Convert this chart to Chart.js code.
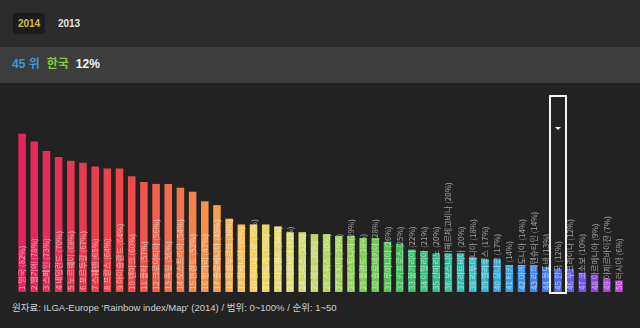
<!DOCTYPE html>
<html>
<head>
<meta charset="utf-8">
<script src="https://cdn.jsdelivr.net/npm/chart.js@4/dist/chart.umd.min.js"></script>
<style>
  html, body { margin: 0; padding: 0; background: #222; }
  body { width: 640px; height: 328px; position: relative; overflow: hidden; font-family: "Liberation Sans", "Noto Sans CJK KR", sans-serif; }
  .top { position: absolute; left: 0; top: 0; width: 640px; height: 47px; background: #2c2c2c; }
  .tab { position: absolute; top: 13px; height: 21px; line-height: 21px; font-size: 10px; font-weight: bold; text-align: center; }
  .tab.on { left: 13px; width: 32px; background: #1c1c1c; color: #cfc13a; border-radius: 3px; }
  .tab.off { left: 54px; width: 30px; color: #e6e6e6; }
  .info { position: absolute; left: 0; top: 47px; width: 640px; height: 36px; background: #3d3d3d; font-size: 12px; font-weight: bold; line-height: 34px; padding-left: 12px; box-sizing: border-box; }
  .rank { color: #3a9ad9; margin-right: 7px; }
  .name { color: #86c540; margin-right: 7px; }
  .pct { color: #f2f2f2; }
  .wrap { position: absolute; left: 0; top: 83px; width: 640px; height: 217px; }
  .foot { position: absolute; left: 12px; top: 300px; font-size: 9.5px; color: #d0d0d0; }
</style>
</head>
<body>
<div class="top">
  <div class="tab on">2014</div>
  <div class="tab off">2013</div>
</div>
<div class="info"><span class="rank">45 위</span><span class="name">한국</span><span class="pct">12%</span></div>
<div class="wrap"><canvas id="chart" width="640" height="217"></canvas></div>
<div class="foot">원자료: ILGA-Europe 'Rainbow index/Map' (2014) / 범위: 0~100% / 순위: 1~50</div>
<script>
// 순위, 국가, 점수(%)
var ranks = [1, 2, 3, 4, 5, 6, 7, 8, 9, 10, 11, 12, 13, 14, 15, 16, 17, 18, 19, 20,
  21, 22, 23, 24, 25, 26, 27, 28, 29, 30, 31, 32, 33, 34, 35, 36, 37, 38, 39, 40,
  41, 42, 43, 44, 45, 46, 47, 48, 49, 50];
var countries = ['영국', '벨기에', '스페인', '네덜란드', '노르웨이', '포르투갈', '스웨덴', '프랑스', '아이슬란드', '덴마크',
  '몰타', '크로아티아', '독일', '오스트리아', '핀란드', '헝가리', '슬로베니아', '룩셈부르크', '알바니아', '몬테네그로',
  '안도라', '아일랜드', '세르비아', '그리스', '체코', '스위스', '조지아', '에스토니아', '폴란드', '슬로바키아',
  '루마니아', '키프로스', '불가리아', '이탈리아', '산마리노', '보스니아헤르체고비나', '라트비아', '리투아니아', '벨라루스', '모나코',
  '터키', '마케도니아', '리히텐슈타인', '몰도바', '한국', '우크라이나', '코소보', '아르메니아', '아제르바이잔', '러시아'];
var scores = [82, 78, 73, 70, 68, 67, 65, 64, 64, 60,
  57, 56, 56, 54, 52, 47, 45, 38, 35, 35,
  35, 34, 31, 31, 30, 30, 29, 29, 28, 28,
  26, 25, 22, 21, 20, 20, 20, 18, 17, 17,
  14, 14, 14, 13, 12, 12, 10, 9, 7, 6];
var highlight = '한국';

// 무지개 색
var stops = [
  [0, [229, 36, 92]], [9, [239, 74, 74]], [13, [243, 118, 74]], [16, [245, 160, 80]],
  [19, [242, 207, 94]], [22, [222, 222, 118]], [25, [180, 214, 96]], [28, [128, 203, 84]],
  [31, [70, 190, 95]], [34, [48, 188, 140]], [37, [46, 190, 196]], [40, [56, 160, 228]],
  [43, [68, 120, 230]], [45, [96, 94, 230]], [47, [140, 70, 228]], [49, [196, 62, 224]]
];
function colorAt(i) {
  for (var k = 0; k < stops.length - 1; k++) {
    var a = stops[k], b = stops[k + 1];
    if (i >= a[0] && i <= b[0]) {
      var t = (i - a[0]) / (b[0] - a[0]);
      var c = a[1].map(function (v, j) { return Math.round(v + (b[1][j] - v) * t); });
      return 'rgb(' + c.join(',') + ')';
    }
  }
  return 'rgb(' + stops[stops.length - 1][1].join(',') + ')';
}

var labels = ranks.map(function (r, i) { return r + ' ' + countries[i] + ' (' + scores[i] + '%)'; });

var barText = {
  id: 'barText',
  afterDatasetsDraw: function (chart) {
    var ctx = chart.ctx;
    var base = chart.scales.y.getPixelForValue(0);
    ctx.save();
    ctx.font = '8px "Noto Sans CJK KR", sans-serif';
    ctx.fillStyle = 'rgba(255,255,255,0.55)';
    ctx.textBaseline = 'middle';
    ctx.textAlign = 'left';
    chart.getDatasetMeta(0).data.forEach(function (bar, i) {
      ctx.save();
      ctx.translate(bar.x, base - 2);
      ctx.rotate(-Math.PI / 2);
      ctx.fillText(labels[i], 0, 0);
      ctx.restore();
    });
    ctx.restore();
  }
};

var selBox = {
  id: 'selBox',
  afterDraw: function (chart) {
    var i = countries.indexOf(highlight);
    var bar = chart.getDatasetMeta(0).data[i];
    var ctx = chart.ctx;
    var base = chart.scales.y.getPixelForValue(0);
    ctx.save();
    ctx.strokeStyle = '#f4f4f4';
    ctx.lineWidth = 2;
    ctx.strokeRect(bar.x - 8, 13, 16, base - 12);
    ctx.fillStyle = '#f4f4f4';
    ctx.beginPath();
    ctx.moveTo(bar.x - 3, 44);
    ctx.lineTo(bar.x + 3, 44);
    ctx.lineTo(bar.x, 47);
    ctx.closePath();
    ctx.fill();
    ctx.restore();
  }
};

new Chart(document.getElementById('chart'), {
  type: 'bar',
  data: {
    labels: labels,
    datasets: [{
      data: scores,
      backgroundColor: scores.map(function (v, i) { return colorAt(i); }),
      borderWidth: 0,
      barPercentage: 0.62,
      categoryPercentage: 1
    }]
  },
  options: {
    responsive: false,
    animation: false,
    layout: { padding: { left: 16, right: 15, top: 16, bottom: 8 } },
    plugins: { legend: { display: false }, tooltip: { enabled: false } },
    scales: {
      x: { display: false },
      y: { display: false, min: 0, max: 100 }
    }
  },
  plugins: [barText, selBox]
});
</script>
</body>
</html>
